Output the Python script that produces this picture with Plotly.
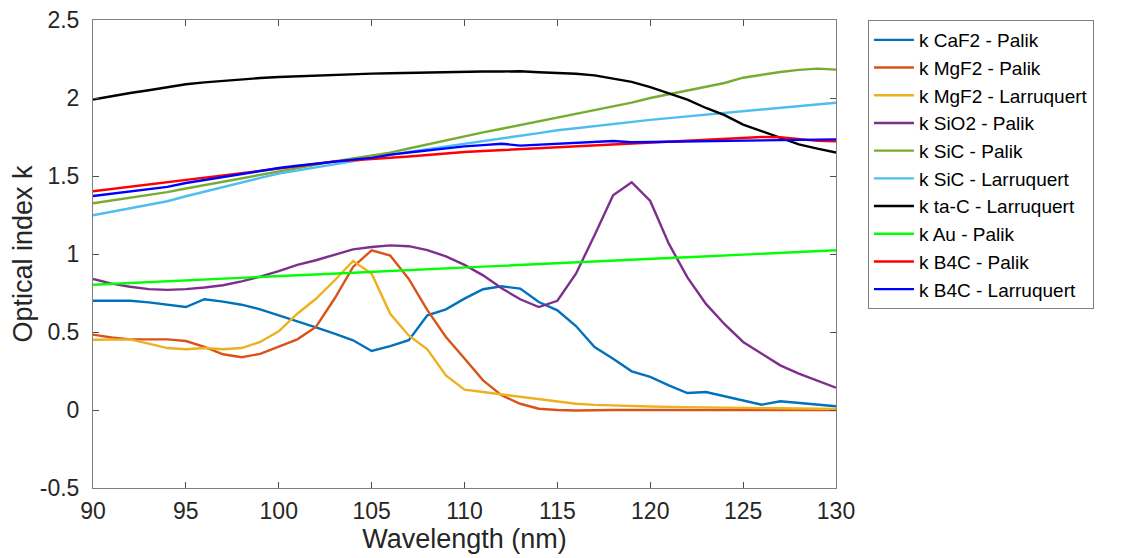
import plotly.graph_objects as go

wavelength = list(range(90, 131))

k_caf2_palik = [0.70, 0.70, 0.70, 0.69, 0.675, 0.66, 0.71, 0.695, 0.675, 0.645,
                0.607, 0.57, 0.53, 0.49, 0.447, 0.378, 0.41, 0.447, 0.607, 0.645,
                0.714, 0.774, 0.793, 0.778, 0.692, 0.639, 0.538, 0.404, 0.329, 0.248,
                0.212, 0.158, 0.109, 0.115, 0.088, 0.06, 0.034, 0.056, 0.045, 0.034, 0.024]

k_mgf2_palik = [0.483, 0.465, 0.453, 0.453, 0.453, 0.442, 0.404, 0.357, 0.338, 0.36,
                0.404, 0.453, 0.532, 0.713, 0.917, 1.024, 0.99, 0.84, 0.64, 0.468,
                0.33, 0.19, 0.094, 0.04, 0.008, 0.0, -0.003, 0.0, 0.0, 0.0,
                0.0, 0.0, 0.0, 0.0, 0.0, 0.0, 0.0, 0.0, 0.0, 0.0, 0.0]

k_mgf2_larr = [0.45, 0.452, 0.453, 0.425, 0.397, 0.389, 0.397, 0.389, 0.397, 0.436,
               0.504, 0.617, 0.713, 0.83, 0.955, 0.874, 0.617, 0.478, 0.389, 0.222,
               0.13, 0.115, 0.10, 0.084, 0.068, 0.054, 0.04, 0.033, 0.028, 0.025,
               0.022, 0.02, 0.018, 0.016, 0.015, 0.013, 0.012, 0.011, 0.01, 0.008, 0.007]

k_sio2_palik = [0.84, 0.81, 0.79, 0.775, 0.77, 0.775, 0.785, 0.80, 0.825, 0.855,
                0.89, 0.93, 0.96, 0.995, 1.03, 1.045, 1.055, 1.05, 1.025, 0.985,
                0.93, 0.863, 0.78, 0.71, 0.66, 0.70, 0.874, 1.12, 1.376, 1.46,
                1.34, 1.066, 0.85, 0.68, 0.55, 0.436, 0.36, 0.286, 0.233, 0.19, 0.143]

k_sic_palik = [1.325, 1.343, 1.361, 1.379, 1.397, 1.42, 1.442, 1.464, 1.486, 1.508,
               1.53, 1.551, 1.572, 1.594, 1.612, 1.631, 1.65, 1.676, 1.702, 1.729,
               1.756, 1.78, 1.803, 1.827, 1.85, 1.874, 1.898, 1.922, 1.946, 1.97,
               2.0, 2.025, 2.05, 2.072, 2.096, 2.13, 2.15, 2.167, 2.18, 2.188, 2.182]

k_sic_larr = [1.248, 1.27, 1.293, 1.315, 1.338, 1.37, 1.40, 1.43, 1.46, 1.488,
              1.515, 1.535, 1.555, 1.575, 1.595, 1.615, 1.637, 1.655, 1.672, 1.69,
              1.707, 1.724, 1.741, 1.758, 1.775, 1.793, 1.806, 1.82, 1.835, 1.85,
              1.86, 1.871, 1.882, 1.893, 1.904, 1.915, 1.926, 1.937, 1.948, 1.959, 1.97]

k_tac_larr = [1.99, 2.012, 2.032, 2.05, 2.07, 2.088, 2.10, 2.11, 2.12, 2.128,
              2.135, 2.14, 2.145, 2.149, 2.153, 2.156, 2.159, 2.162, 2.165, 2.167,
              2.168, 2.17, 2.17, 2.171, 2.165, 2.162, 2.155, 2.145, 2.125, 2.103,
              2.07, 2.03, 1.99, 1.936, 1.89, 1.83, 1.786, 1.744, 1.703, 1.675, 1.65]

k_au_palik = [0.803, 0.809, 0.814, 0.82, 0.825, 0.831, 0.836, 0.842, 0.847, 0.853,
              0.858, 0.864, 0.869, 0.875, 0.88, 0.886, 0.891, 0.897, 0.902, 0.908,
              0.913, 0.919, 0.924, 0.93, 0.935, 0.941, 0.946, 0.952, 0.957, 0.963,
              0.968, 0.974, 0.979, 0.985, 0.99, 0.996, 1.001, 1.007, 1.012, 1.018, 1.024]

k_b4c_palik = [1.402, 1.417, 1.431, 1.446, 1.46, 1.475, 1.49, 1.504, 1.518, 1.533,
               1.547, 1.563, 1.578, 1.594, 1.601, 1.608, 1.615, 1.625, 1.635, 1.645,
               1.654, 1.66, 1.666, 1.672, 1.678, 1.684, 1.69, 1.696, 1.702, 1.708,
               1.714, 1.72, 1.726, 1.733, 1.74, 1.746, 1.75, 1.748, 1.735, 1.725, 1.722]

k_b4c_larr = [1.372, 1.386, 1.40, 1.415, 1.43, 1.455, 1.475, 1.494, 1.513, 1.532,
              1.551, 1.566, 1.58, 1.594, 1.605, 1.616, 1.637, 1.651, 1.665, 1.678,
              1.69, 1.698, 1.707, 1.695, 1.70, 1.705, 1.71, 1.717, 1.724, 1.716,
              1.718, 1.72, 1.722, 1.724, 1.726, 1.728, 1.73, 1.731, 1.733, 1.734, 1.735]

series_names = ["k CaF2 - Palik", "k MgF2 - Palik", "k MgF2 - Larruquert", "k SiO2 - Palik",
                "k SiC - Palik", "k SiC - Larruquert", "k ta-C - Larruquert", "k Au - Palik",
                "k B4C - Palik", "k B4C - Larruquert"]
series_values = [k_caf2_palik, k_mgf2_palik, k_mgf2_larr, k_sio2_palik, k_sic_palik,
                 k_sic_larr, k_tac_larr, k_au_palik, k_b4c_palik, k_b4c_larr]
series_colors = ["#0072BD", "#D95319", "#EDB120", "#7E2F8E", "#77AC30",
                 "#4DBEEE", "#000000", "#00FF00", "#FF0000", "#0000FF"]

x_ticks = [90, 95, 100, 105, 110, 115, 120, 125, 130]
y_ticks = [-0.5, 0, 0.5, 1, 1.5, 2, 2.5]
y_tick_labels = ["-0.5", "0", "0.5", "1", "1.5", "2", "2.5"]

fig = go.Figure()
for name, vals, col in zip(series_names, series_values, series_colors):
    fig.add_trace(go.Scatter(x=wavelength, y=vals, mode="lines", name=name,
                             line=dict(color=col, width=2.4)))

font_family = "Liberation Sans, Arial, Helvetica, sans-serif"
axis_common = dict(showline=True, linecolor="#808080", linewidth=1, mirror="ticks",
                   ticks="inside", ticklen=6, tickcolor="#4d4d4d", showgrid=False,
                   zeroline=False, automargin=False, ticklabeloverflow="allow",
                   tickfont=dict(size=23, color="#262626", family=font_family))

fig.update_xaxes(range=[90, 130], tickvals=x_ticks, ticklabelstandoff=2,
                 title=dict(text="Wavelength (nm)", font=dict(size=27, color="#262626", family=font_family), standoff=4),
                 **axis_common)
fig.update_yaxes(range=[-0.5, 2.5], tickvals=y_ticks, ticktext=y_tick_labels, ticklabelstandoff=8,
                 title=dict(text="Optical index k", font=dict(size=27, color="#262626", family=font_family), standoff=6),
                 **axis_common)

# page body adds an 8px offset, so the figure is sized to fit the 1125x558 window
fig.update_layout(
    width=1117, height=550,
    margin=dict(l=85, r=289, t=12, b=70),
    plot_bgcolor="white", paper_bgcolor="white",
    font=dict(family=font_family, color="#262626"),
    legend=dict(x=1.043, y=1.0, xanchor="left", yanchor="top",
                bordercolor="#808080", borderwidth=1, bgcolor="white",
                font=dict(size=19, color="#000000", family=font_family),
                tracegroupgap=0, itemwidth=40),
    showlegend=True,
)

fig.write_html("out.html")
